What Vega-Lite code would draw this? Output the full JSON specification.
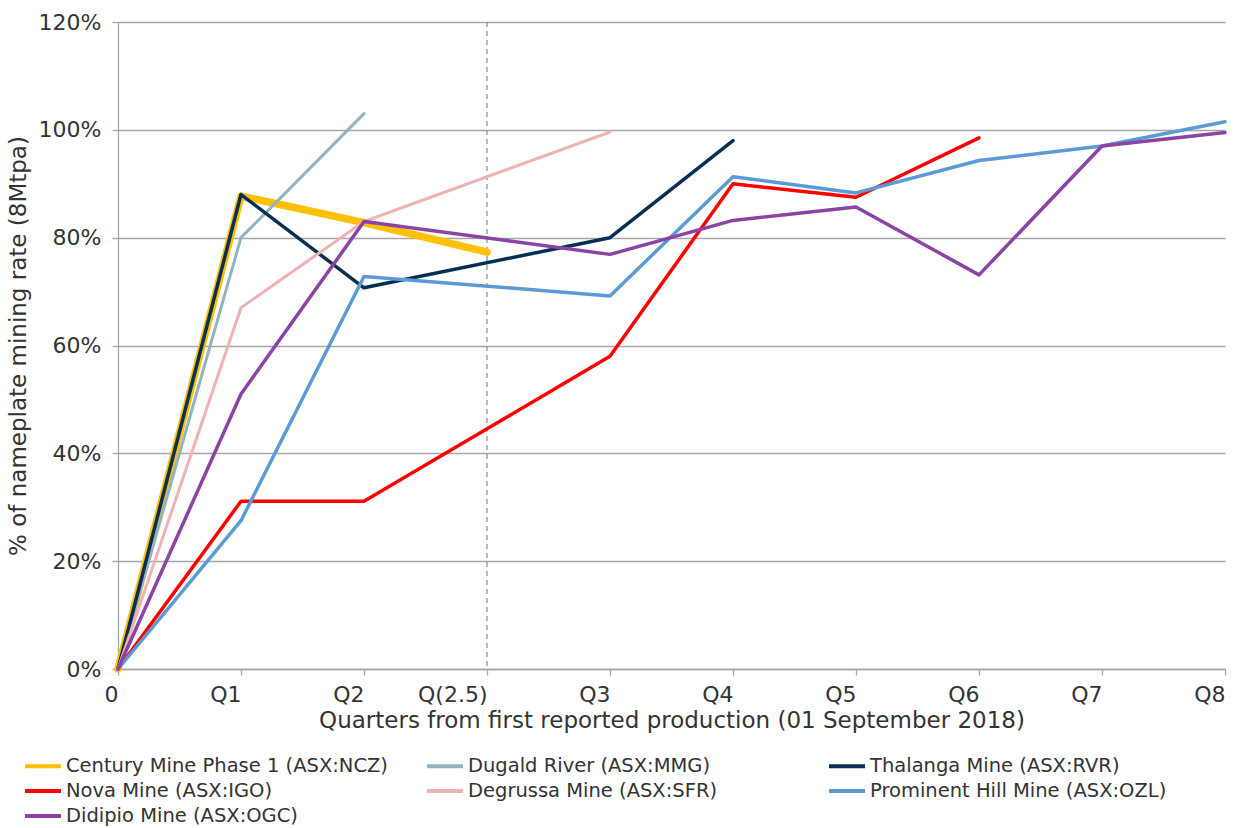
{
  "$schema": "https://vega.github.io/schema/vega-lite/v6.json",
  "width": 1107,
  "height": 647,
  "autosize": "none",
  "padding": {"left": 118, "top": 22, "right": 24, "bottom": 159},
  "background": "white",
  "config": {
    "font": "DejaVu Sans",
    "view": {"stroke": null},
    "axis": {
      "labelFont": "DejaVu Sans",
      "titleFont": "DejaVu Sans",
      "labelColor": "#333333",
      "titleColor": "#333333",
      "titleFontWeight": "normal",
      "domainColor": "#a6a6a6",
      "domainWidth": 1.3,
      "tickColor": "#a6a6a6",
      "tickWidth": 1.3,
      "tickSize": 6,
      "labelFlush": false
    },
    "legend": {"labelFont": "DejaVu Sans"}
  },
  "datasets": {
    "mines": [
      {"mine": "Century Mine Phase 1 (ASX:NCZ)", "q": "0", "pct": 0},
      {"mine": "Century Mine Phase 1 (ASX:NCZ)", "q": "Q1", "pct": 87.7},
      {"mine": "Century Mine Phase 1 (ASX:NCZ)", "q": "Q2", "pct": 82.8},
      {"mine": "Century Mine Phase 1 (ASX:NCZ)", "q": "Q(2.5)", "pct": 77.3},
      {"mine": "Dugald River (ASX:MMG)", "q": "0", "pct": 0},
      {"mine": "Dugald River (ASX:MMG)", "q": "Q1", "pct": 80},
      {"mine": "Dugald River (ASX:MMG)", "q": "Q2", "pct": 103},
      {"mine": "Thalanga Mine (ASX:RVR)", "q": "0", "pct": 0},
      {"mine": "Thalanga Mine (ASX:RVR)", "q": "Q1", "pct": 88},
      {"mine": "Thalanga Mine (ASX:RVR)", "q": "Q2", "pct": 70.7},
      {"mine": "Thalanga Mine (ASX:RVR)", "q": "Q3", "pct": 80},
      {"mine": "Thalanga Mine (ASX:RVR)", "q": "Q4", "pct": 98},
      {"mine": "Nova Mine (ASX:IGO)", "q": "0", "pct": 0},
      {"mine": "Nova Mine (ASX:IGO)", "q": "Q1", "pct": 31.1},
      {"mine": "Nova Mine (ASX:IGO)", "q": "Q2", "pct": 31.1},
      {"mine": "Nova Mine (ASX:IGO)", "q": "Q3", "pct": 58},
      {"mine": "Nova Mine (ASX:IGO)", "q": "Q4", "pct": 90},
      {"mine": "Nova Mine (ASX:IGO)", "q": "Q5", "pct": 87.5},
      {"mine": "Nova Mine (ASX:IGO)", "q": "Q6", "pct": 98.5},
      {"mine": "Degrussa Mine (ASX:SFR)", "q": "0", "pct": 0},
      {"mine": "Degrussa Mine (ASX:SFR)", "q": "Q1", "pct": 67},
      {"mine": "Degrussa Mine (ASX:SFR)", "q": "Q2", "pct": 83},
      {"mine": "Degrussa Mine (ASX:SFR)", "q": "Q3", "pct": 99.6},
      {"mine": "Prominent Hill Mine (ASX:OZL)", "q": "0", "pct": 0},
      {"mine": "Prominent Hill Mine (ASX:OZL)", "q": "Q1", "pct": 27.5},
      {"mine": "Prominent Hill Mine (ASX:OZL)", "q": "Q2", "pct": 72.8},
      {"mine": "Prominent Hill Mine (ASX:OZL)", "q": "Q3", "pct": 69.2},
      {"mine": "Prominent Hill Mine (ASX:OZL)", "q": "Q4", "pct": 91.3},
      {"mine": "Prominent Hill Mine (ASX:OZL)", "q": "Q5", "pct": 88.3},
      {"mine": "Prominent Hill Mine (ASX:OZL)", "q": "Q6", "pct": 94.3},
      {"mine": "Prominent Hill Mine (ASX:OZL)", "q": "Q7", "pct": 97},
      {"mine": "Prominent Hill Mine (ASX:OZL)", "q": "Q8", "pct": 101.5},
      {"mine": "Didipio Mine (ASX:OGC)", "q": "0", "pct": 0},
      {"mine": "Didipio Mine (ASX:OGC)", "q": "Q1", "pct": 51},
      {"mine": "Didipio Mine (ASX:OGC)", "q": "Q2", "pct": 83},
      {"mine": "Didipio Mine (ASX:OGC)", "q": "Q3", "pct": 76.9},
      {"mine": "Didipio Mine (ASX:OGC)", "q": "Q4", "pct": 83.2},
      {"mine": "Didipio Mine (ASX:OGC)", "q": "Q5", "pct": 85.7},
      {"mine": "Didipio Mine (ASX:OGC)", "q": "Q6", "pct": 73.1},
      {"mine": "Didipio Mine (ASX:OGC)", "q": "Q7", "pct": 97},
      {"mine": "Didipio Mine (ASX:OGC)", "q": "Q8", "pct": 99.5}
    ]
  },
  "layer": [
    {
      "data": {"values": [{"q": "Q(2.5)"}]},
      "mark": {"type": "rule", "color": "#8c8c8c", "strokeWidth": 1.2, "strokeDash": [5, 4]},
      "encoding": {
        "x": {
          "field": "q",
          "type": "ordinal",
          "scale": {"type": "point", "padding": 0, "domain": ["0", "Q1", "Q2", "Q(2.5)", "Q3", "Q4", "Q5", "Q6", "Q7", "Q8"]}
        }
      }
    },
    {
      "data": {"name": "mines"},
      "mark": {"type": "line", "strokeCap": "round", "strokeJoin": "round"},
      "encoding": {
        "x": {
          "field": "q",
          "type": "ordinal",
          "scale": {"type": "point", "padding": 0, "domain": ["0", "Q1", "Q2", "Q(2.5)", "Q3", "Q4", "Q5", "Q6", "Q7", "Q8"]},
          "axis": {
            "title": "Quarters from first reported production (01 September 2018)",
            "titleFontSize": 23,
            "titlePadding": 4,
            "labelFontSize": 22,
            "labelPadding": 19,
            "labelAngle": 0,
            "grid": false
          }
        },
        "y": {
          "field": "pct",
          "type": "quantitative",
          "scale": {"domain": [0, 120], "nice": false},
          "axis": {
            "title": "% of nameplate mining rate (8Mtpa)",
            "titleFontSize": 23,
            "titlePadding": 8,
            "labelFontSize": 22,
            "labelPadding": 11,
            "values": [0, 20, 40, 60, 80, 100, 120],
            "labelExpr": "datum.value + '%'",
            "grid": true,
            "gridColor": "#a6a6a6",
            "gridWidth": 1.3
          }
        },
        "color": {
          "field": "mine",
          "type": "nominal",
          "sort": null,
          "scale": {
            "domain": ["Century Mine Phase 1 (ASX:NCZ)", "Dugald River (ASX:MMG)", "Thalanga Mine (ASX:RVR)", "Nova Mine (ASX:IGO)", "Degrussa Mine (ASX:SFR)", "Prominent Hill Mine (ASX:OZL)", "Didipio Mine (ASX:OGC)"],
            "range": ["#ffc000", "#93b3bd", "#062f55", "#ff0000", "#efb3b3", "#5b9bd5", "#8b44a4"]
          },
          "legend": {
            "title": null,
            "orient": "none",
            "direction": "horizontal",
            "legendX": -95,
            "legendY": 733,
            "columns": 3,
            "gridAlign": "all",
            "columnPadding": 31,
            "rowPadding": 4,
            "symbolType": "M-1,0H3",
            "symbolSize": 324,
            "symbolStrokeWidth": 4,
            "labelFontSize": 19.5,
            "labelColor": "#333333",
            "labelOffset": 21,
            "labelLimit": 400
          }
        },
        "strokeWidth": {
          "condition": [
            {"test": "datum.mine === 'Century Mine Phase 1 (ASX:NCZ)'", "value": 7.5},
            {"test": "datum.mine === 'Dugald River (ASX:MMG)' || datum.mine === 'Degrussa Mine (ASX:SFR)'", "value": 3}
          ],
          "value": 3.5
        },
        "order": {"value": null}
      }
    }
  ]
}
